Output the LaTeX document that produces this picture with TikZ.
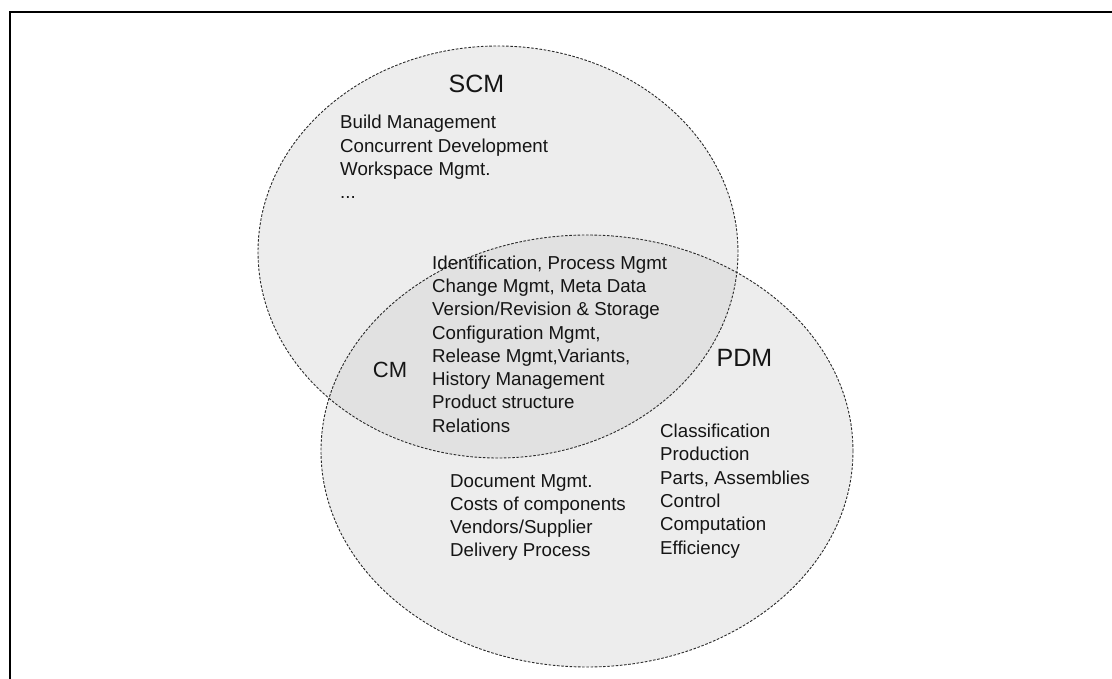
\documentclass[tikz,border=0pt]{standalone}
\usepackage{fontspec}
\setmainfont{Liberation Sans}
\definecolor{venngray}{HTML}{EDEDED}
\definecolor{lensgray}{HTML}{E1E1E1}
\definecolor{rimgray}{HTML}{2A2A2A}
\definecolor{inkc}{HTML}{151515}
\begin{document}
\begin{tikzpicture}[x=1pt,y=-1pt,
  rim/.style={draw=rimgray, line width=0.9pt, dash pattern=on 2.6pt off 1.6pt},
  title/.style={font=\fontsize{25}{30}\selectfont, text=inkc, inner sep=0pt},
  list/.style={font=\fontsize{18.7}{23.3}\selectfont, text=inkc, align=left, anchor=west, inner sep=0pt},
]
\useasboundingbox (0,0) rectangle (1112,679);

% frame edges
\draw[line width=2pt] (10,679) -- (10,12) -- (1112,12);

% the two sets
\coordinate (scmc) at (498,252);
\coordinate (pdmc) at (587,451);
\fill[venngray] (scmc) ellipse [x radius=240pt, y radius=206pt];
\fill[venngray] (pdmc) ellipse [x radius=266pt, y radius=216pt];
\begin{scope}
  \clip (scmc) ellipse [x radius=240pt, y radius=206pt];
  \fill[lensgray] (pdmc) ellipse [x radius=266pt, y radius=216pt];
\end{scope}
\draw[rim] (scmc) ellipse [x radius=240pt, y radius=206pt];
\draw[rim] (pdmc) ellipse [x radius=266pt, y radius=216pt];

% set titles
\node[title] (scm) at (476.5,83.5) {SCM};
\node[title] (pdm) at (744.5,357.5) {PDM};
\node[title, font=\fontsize{22}{26}\selectfont] (cm) at (390,370) {CM};

% set contents
\node[list] (scmlist) at (340,157) {Build Management\\Concurrent Development\\Workspace Mgmt.\\...};
\node[list] (cmlist) at (432,344) {Identification, Process Mgmt\\Change Mgmt, Meta Data\\Version/Revision \& Storage\\Configuration Mgmt,\\Release Mgmt,Variants,\\History Management\\Product structure\\Relations};
\node[list] (doclist) at (450,517.5) {Document Mgmt.\\Costs of components\\Vendors/Supplier\\Delivery Process};
\node[list] (pdmlist) at (660,491) {Classification\\Production\\Parts, Assemblies\\Control\\Computation\\Efficiency};
\end{tikzpicture}
\end{document}
